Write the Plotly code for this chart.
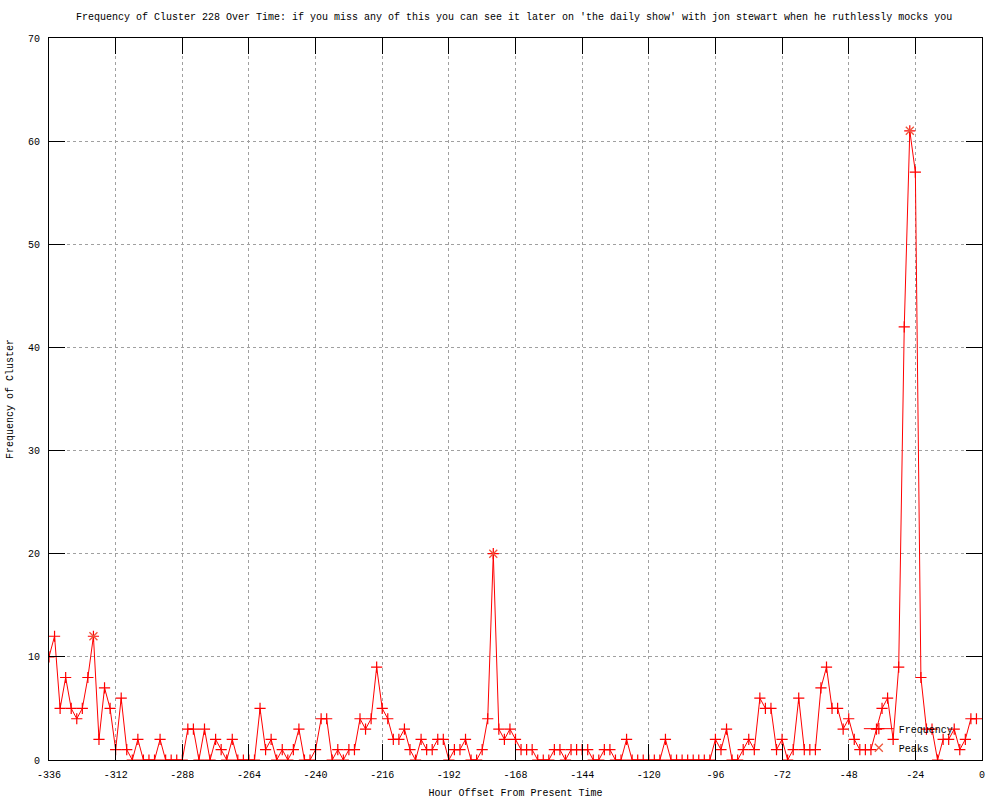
import plotly.graph_objects as go

hours = list(range(-336, 0, 2))
freq = [10, 12, 5, 8, 5, 4, 5, 8, 12, 2, 7, 5, 1, 6, 1, 0, 2, 0, 0, 0,
        2, 0, 0, 0, 0, 3, 3, 0, 3, 0, 2, 1, 0, 2, 0, 0, 0, 0, 5, 1,
        2, 0, 1, 0, 1, 3, 0, 0, 1, 4, 4, 0, 1, 0, 1, 1, 4, 3, 4, 9,
        5, 4, 2, 2, 3, 1, 0, 2, 1, 1, 2, 2, 0, 1, 1, 2, 0, 0, 1, 4,
        20, 3, 2, 3, 2, 1, 1, 1, 0, 0, 0, 1, 1, 0, 1, 1, 1, 1, 0, 0,
        1, 1, 0, 0, 2, 0, 0, 0, 0, 0, 0, 2, 0, 0, 0, 0, 0, 0, 0, 0,
        2, 1, 3, 0, 0, 1, 2, 1, 6, 5, 5, 1, 2, 0, 1, 6, 1, 1, 1, 7,
        9, 5, 5, 3, 4, 2, 1, 1, 1, 3, 5, 6, 2, 9, 42, 61, 57, 8, 3, 3,
        0, 2, 2, 3, 1, 2, 4, 4]
peak_hours = [-320, -176, -26]
peak_vals = [12, 20, 61]

x_ticks = list(range(-336, 1, 24))
y_ticks = list(range(0, 71, 10))

TITLE = ("Frequency of Cluster 228 Over Time: if you miss any of this you can see it later on "
         "'the daily show' with jon stewart when he ruthlessly mocks you")

FONT = "Liberation Mono"
FS = 10

fig = go.Figure()
fig.add_trace(go.Scatter(
    x=hours, y=freq, mode="lines+markers", name="Frequency",
    line=dict(color="#ff0000", width=1),
    marker=dict(symbol="cross-thin-open", size=8, line=dict(color="#ff0000", width=1.2)),
))
fig.add_trace(go.Scatter(
    x=peak_hours, y=peak_vals, mode="markers", name="Peaks",
    marker=dict(symbol="x-thin-open", size=8, line=dict(color="#00c000", width=1.3)),
))

axis_common = dict(
    showline=True, linecolor="black", linewidth=1, mirror="ticks",
    ticks="inside", ticklen=16, tickcolor="black", tickwidth=1,
    showgrid=True, gridcolor="#a0a0a0", griddash="dot", gridwidth=1,
    zeroline=False, automargin=False,
    tickfont=dict(family=FONT, size=FS, color="black"),
)

fig.update_xaxes(range=[-336, 0], tickvals=x_ticks, ticktext=[str(v) for v in x_ticks],
                 ticklabelstandoff=5,
                 title=dict(text="Hour Offset From Present Time", font=dict(family=FONT, size=FS), standoff=8),
                 **axis_common)
fig.update_yaxes(range=[0, 70], tickvals=y_ticks, ticktext=[str(v) for v in y_ticks],
                 ticklabelstandoff=6,
                 title=dict(text="Frequency of Cluster", font=dict(family=FONT, size=FS), standoff=12),
                 **axis_common)

fig.add_annotation(text=TITLE, xref="paper", yref="paper", x=0.498, y=1.0, yshift=21,
                   xanchor="center", yanchor="middle", showarrow=False,
                   font=dict(family=FONT, size=FS, color="black"))

fig.update_layout(
    width=1000, height=800,
    margin=dict(l=49, r=18, t=38, b=40),
    paper_bgcolor="white", plot_bgcolor="white",
    showlegend=True,
    legend=dict(x=0.868, y=-0.003, xanchor="left", yanchor="bottom", bgcolor="rgba(0,0,0,0)",
                font=dict(family=FONT, size=FS, color="black"), itemwidth=30, tracegroupgap=0),
    font=dict(family=FONT, size=FS, color="black"),
)

fig.write_html("out.html", config={"displayModeBar": False},
               post_script="document.body.style.margin='0';")
